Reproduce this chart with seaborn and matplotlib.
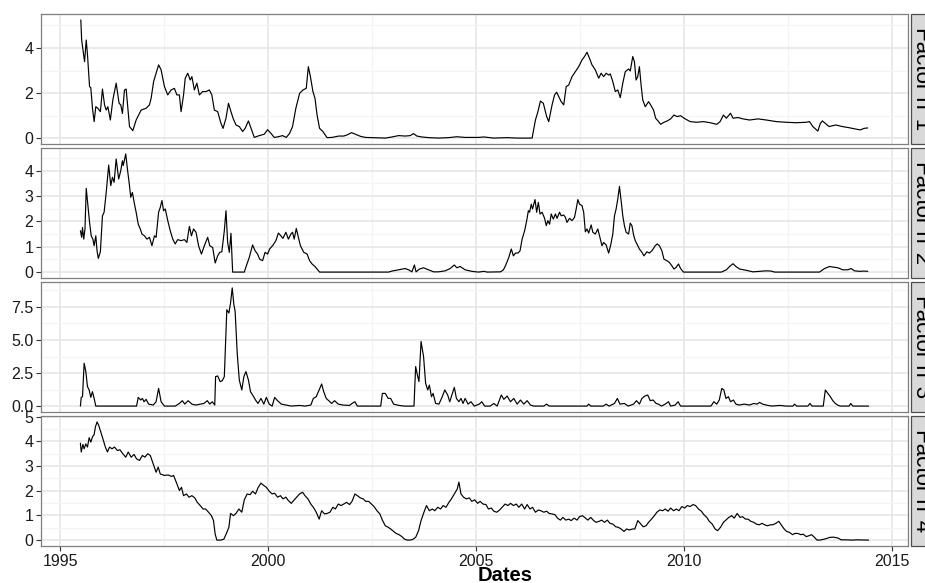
import numpy as np
import pandas as pd
import matplotlib
matplotlib.use("Agg")
import matplotlib.pyplot as plt
import seaborn as sns
from matplotlib.ticker import FixedLocator, MultipleLocator
from matplotlib.patches import Rectangle

sns.set_theme(style="white")
plt.rcParams['font.family'] = ['Liberation Sans', 'DejaVu Sans']

# ---------------- data (decimal years) ----------------
factor_names = ["Factor n°1", "Factor n°2", "Factor n°3", "Factor n°4"]

dates1 = [1995.49, 1995.51, 1995.58, 1995.62, 1995.65, 1995.70, 1995.73, 1995.77, 1995.81, 1995.85,
          1995.90, 1995.96, 1996.01, 1996.06, 1996.10, 1996.14, 1996.20, 1996.26, 1996.34, 1996.41,
          1996.45, 1996.49, 1996.54, 1996.58, 1996.66, 1996.74, 1996.82, 1996.94, 1997.06, 1997.14,
          1997.18, 1997.24, 1997.30, 1997.36, 1997.42, 1997.50, 1997.58, 1997.66, 1997.74, 1997.80,
          1997.86, 1997.90, 1997.96, 1998.00, 1998.06, 1998.12, 1998.16, 1998.22, 1998.28, 1998.34,
          1998.42, 1998.50, 1998.58, 1998.64, 1998.70, 1998.78, 1998.86, 1998.91, 1998.98, 1999.04,
          1999.10, 1999.15, 1999.22, 1999.30, 1999.38, 1999.44, 1999.52, 1999.59, 1999.66, 1999.78,
          1999.90, 1999.98, 2000.06, 2000.14, 2000.24, 2000.34, 2000.43, 2000.51, 2000.58, 2000.66,
          2000.75, 2000.83, 2000.91, 2000.96, 2001.01, 2001.07, 2001.12, 2001.17, 2001.23, 2001.31,
          2001.41, 2001.53, 2001.69, 2001.81, 2001.89, 2002.00, 2002.09, 2002.21, 2002.33, 2002.49,
          2002.81, 2002.97, 2003.13, 2003.29, 2003.41, 2003.49, 2003.57, 2003.69, 2003.85, 2004.09,
          2004.33, 2004.53, 2004.73, 2005.05, 2005.18, 2005.42, 2005.74, 2005.98, 2006.34, 2006.42,
          2006.48, 2006.54, 2006.61, 2006.69, 2006.74, 2006.82, 2006.88, 2006.93, 2006.98, 2007.04,
          2007.10, 2007.16, 2007.22, 2007.30, 2007.38, 2007.46, 2007.54, 2007.60, 2007.66, 2007.72,
          2007.78, 2007.86, 2007.94, 2008.00, 2008.06, 2008.12, 2008.18, 2008.22, 2008.28, 2008.34,
          2008.40, 2008.46, 2008.52, 2008.58, 2008.66, 2008.70, 2008.76, 2008.80, 2008.84, 2008.88,
          2008.92, 2008.96, 2009.00, 2009.06, 2009.14, 2009.19, 2009.26, 2009.31, 2009.38, 2009.43,
          2009.51, 2009.59, 2009.67, 2009.75, 2009.83, 2009.91, 2010.02, 2010.14, 2010.30, 2010.46,
          2010.62, 2010.78, 2010.86, 2010.94, 2011.01, 2011.11, 2011.17, 2011.29, 2011.41, 2011.57,
          2011.77, 2011.97, 2012.21, 2012.45, 2012.69, 2012.93, 2013.01, 2013.09, 2013.21, 2013.27,
          2013.32, 2013.39, 2013.48, 2013.64, 2013.80, 2013.96, 2014.12, 2014.23, 2014.32, 2014.41]
values1 = [5.24, 4.35, 3.39, 4.35, 3.70, 2.29, 2.24, 1.33, 0.74, 1.40,
           1.33, 1.18, 2.18, 1.48, 1.25, 1.40, 0.81, 1.70, 2.44, 1.55,
           1.48, 1.10, 2.14, 2.18, 0.52, 0.34, 0.81, 1.25, 1.33, 1.48,
           1.77, 2.51, 2.88, 3.25, 3.03, 2.29, 1.92, 2.14, 2.21, 1.92,
           1.92, 1.18, 1.92, 2.66, 2.88, 2.58, 2.73, 2.14, 2.44, 1.92,
           2.07, 2.07, 2.14, 1.92, 1.25, 1.18, 0.66, 0.44, 0.89, 1.55,
           1.18, 0.89, 0.59, 0.52, 0.30, 0.44, 0.77, 0.41, 0.04, 0.12,
           0.18, 0.38, 0.22, 0.04, 0.07, 0.12, 0.04, 0.22, 0.52, 1.33,
           1.99, 2.14, 2.21, 3.17, 2.73, 2.07, 1.77, 1.03, 0.44, 0.30,
           0.03, 0.04, 0.10, 0.10, 0.15, 0.25, 0.18, 0.09, 0.04, 0.03,
           0.01, 0.06, 0.12, 0.10, 0.12, 0.21, 0.10, 0.06, 0.03, 0.01,
           0.03, 0.07, 0.04, 0.04, 0.06, 0.01, 0.03, 0.01, 0.01, 0.81,
           1.18, 1.65, 1.55, 0.96, 0.74, 1.48, 1.92, 2.04, 1.85, 1.62,
           1.48, 2.29, 2.36, 2.73, 2.95, 3.17, 3.47, 3.62, 3.81, 3.54,
           3.25, 3.03, 2.66, 2.88, 2.73, 2.88, 2.80, 2.85, 2.51, 2.07,
           2.14, 1.80, 2.44, 2.95, 3.07, 2.98, 3.62, 3.39, 2.58, 2.73,
           3.17, 2.36, 1.70, 1.40, 1.62, 1.48, 1.25, 0.89, 0.74, 0.62,
           0.71, 0.77, 0.86, 1.03, 0.96, 1.00, 0.86, 0.74, 0.71, 0.74,
           0.69, 0.62, 0.74, 1.03, 0.89, 1.11, 0.89, 0.92, 0.86, 0.81,
           0.86, 0.81, 0.74, 0.71, 0.69, 0.71, 0.74, 0.52, 0.32, 0.66,
           0.77, 0.66, 0.52, 0.59, 0.52, 0.47, 0.41, 0.37, 0.44, 0.46]

dates2 = [1995.48, 1995.51, 1995.53, 1995.56, 1995.59, 1995.62, 1995.66, 1995.70, 1995.74, 1995.78,
          1995.81, 1995.85, 1995.88, 1995.91, 1995.96, 1996.01, 1996.05, 1996.10, 1996.16, 1996.21,
          1996.25, 1996.29, 1996.34, 1996.40, 1996.45, 1996.49, 1996.51, 1996.57, 1996.61, 1996.66,
          1996.69, 1996.73, 1996.78, 1996.82, 1996.87, 1996.92, 1996.96, 1997.02, 1997.08, 1997.14,
          1997.20, 1997.26, 1997.30, 1997.36, 1997.40, 1997.44, 1997.48, 1997.52, 1997.58, 1997.64,
          1997.70, 1997.76, 1997.82, 1997.90, 1997.98, 1998.04, 1998.10, 1998.15, 1998.20, 1998.26,
          1998.32, 1998.39, 1998.46, 1998.54, 1998.59, 1998.66, 1998.72, 1998.78, 1998.83, 1998.88,
          1998.94, 1998.98, 1999.02, 1999.06, 1999.10, 1999.14, 1999.42, 1999.47, 1999.54, 1999.62,
          1999.68, 1999.74, 1999.79, 1999.86, 1999.92, 1999.98, 2000.03, 2000.10, 2000.18, 2000.24,
          2000.30, 2000.35, 2000.42, 2000.48, 2000.54, 2000.58, 2000.62, 2000.67, 2000.72, 2000.77,
          2000.85, 2000.93, 2000.99, 2001.05, 2001.12, 2001.17, 2001.23, 2002.89, 2002.97, 2003.13,
          2003.29, 2003.37, 2003.45, 2003.51, 2003.55, 2003.63, 2003.73, 2003.85, 2003.97, 2004.09,
          2004.25, 2004.37, 2004.47, 2004.53, 2004.61, 2004.73, 2004.89, 2005.05, 2005.18, 2005.26,
          2005.58, 2005.65, 2005.70, 2005.78, 2005.84, 2005.89, 2005.94, 2006.00, 2006.05, 2006.10,
          2006.16, 2006.21, 2006.25, 2006.28, 2006.32, 2006.35, 2006.41, 2006.45, 2006.49, 2006.53,
          2006.58, 2006.64, 2006.68, 2006.72, 2006.76, 2006.80, 2006.85, 2006.90, 2006.94, 2007.00,
          2007.04, 2007.10, 2007.14, 2007.18, 2007.24, 2007.30, 2007.36, 2007.40, 2007.44, 2007.48,
          2007.54, 2007.58, 2007.62, 2007.66, 2007.70, 2007.76, 2007.80, 2007.86, 2007.92, 2007.96,
          2008.02, 2008.06, 2008.12, 2008.18, 2008.23, 2008.28, 2008.32, 2008.36, 2008.40, 2008.44,
          2008.48, 2008.52, 2008.56, 2008.60, 2008.66, 2008.70, 2008.74, 2008.78, 2008.82, 2008.87,
          2008.92, 2008.98, 2009.03, 2009.10, 2009.16, 2009.22, 2009.30, 2009.35, 2009.40, 2009.46,
          2009.51, 2009.58, 2009.64, 2009.70, 2009.75, 2009.80, 2009.86, 2009.91, 2009.98, 2010.89,
          2011.01, 2011.09, 2011.17, 2011.24, 2011.33, 2011.49, 2011.65, 2011.81, 2011.97, 2012.09,
          2012.17, 2013.25, 2013.37, 2013.49, 2013.57, 2013.69, 2013.81, 2013.93, 2014.01, 2014.09,
          2014.21, 2014.33, 2014.41]
values2 = [1.63, 1.37, 1.76, 1.30, 1.70, 3.30, 2.62, 1.96, 1.43, 1.30,
           1.04, 1.43, 0.84, 0.54, 0.80, 2.22, 2.36, 3.14, 4.22, 3.41,
           3.74, 3.54, 4.46, 3.67, 4.00, 4.39, 4.20, 4.66, 4.07, 3.41,
           2.95, 3.14, 2.68, 2.36, 1.89, 1.70, 1.50, 1.43, 1.30, 1.37,
           1.04, 1.43, 1.37, 2.36, 2.55, 2.82, 2.42, 2.49, 2.03, 1.63,
           1.30, 1.11, 1.28, 1.24, 1.28, 1.17, 1.80, 1.43, 1.70, 1.57,
           1.04, 0.71, 1.04, 1.37, 1.04, 0.97, 0.36, 0.64, 0.78, 0.80,
           1.63, 2.42, 1.17, 0.78, 1.53, 0.00, 0.00, 0.25, 0.58, 1.07,
           0.84, 0.71, 0.51, 0.45, 0.78, 0.71, 0.91, 1.04, 1.24, 1.54,
           1.43, 1.33, 1.57, 1.30, 1.50, 1.57, 1.30, 1.72, 1.37, 1.04,
           0.78, 0.71, 0.45, 0.32, 0.22, 0.12, 0.00, 0.00, 0.04, 0.09,
           0.14, 0.09, 0.01, 0.28, 0.01, 0.12, 0.17, 0.09, 0.01, 0.01,
           0.05, 0.14, 0.28, 0.17, 0.22, 0.09, 0.03, 0.00, 0.03, 0.00,
           0.01, 0.09, 0.25, 0.58, 0.91, 0.64, 0.75, 0.75, 0.84, 1.30,
           1.63, 2.03, 2.42, 2.36, 2.68, 2.49, 2.86, 2.36, 2.75, 2.29,
           2.36, 2.12, 1.83, 2.03, 1.89, 2.29, 2.09, 2.29, 2.12, 2.36,
           2.22, 2.25, 2.16, 1.96, 2.12, 2.03, 2.16, 2.49, 2.86, 2.68,
           2.62, 2.36, 1.59, 1.70, 1.54, 1.86, 1.57, 1.50, 1.70, 1.43,
           1.04, 1.17, 1.07, 0.75, 1.07, 1.50, 2.22, 2.49, 2.88, 3.38,
           2.82, 2.22, 1.83, 1.57, 1.50, 1.93, 1.83, 1.46, 1.24, 1.07,
           0.91, 0.78, 0.64, 0.80, 0.75, 0.84, 1.04, 1.11, 1.04, 0.84,
           0.51, 0.45, 0.38, 0.25, 0.12, 0.18, 0.32, 0.14, 0.00, 0.00,
           0.09, 0.22, 0.33, 0.22, 0.12, 0.07, 0.01, 0.03, 0.05, 0.04,
           0.00, 0.00, 0.14, 0.22, 0.20, 0.17, 0.09, 0.09, 0.14, 0.05,
           0.03, 0.04, 0.03]

dates3 = [1995.48, 1995.50, 1995.53, 1995.57, 1995.61, 1995.65, 1995.69, 1995.73, 1995.77, 1995.81,
          1995.85, 1996.83, 1996.87, 1996.93, 1996.97, 1997.01, 1997.06, 1997.12, 1997.23, 1997.30,
          1997.36, 1997.42, 1997.50, 1997.76, 1997.86, 1997.93, 1997.99, 1998.07, 1998.16, 1998.25,
          1998.36, 1998.45, 1998.53, 1998.59, 1998.65, 1998.71, 1998.73, 1998.78, 1998.84, 1998.89,
          1998.94, 1999.00, 1999.05, 1999.09, 1999.13, 1999.17, 1999.20, 1999.25, 1999.30, 1999.36,
          1999.41, 1999.46, 1999.52, 1999.57, 1999.62, 1999.69, 1999.75, 1999.82, 1999.89, 1999.95,
          2000.02, 2000.09, 2000.15, 2000.22, 2000.31, 2000.42, 2000.55, 2000.75, 2000.88, 2001.02,
          2001.08, 2001.15, 2001.22, 2001.28, 2001.33, 2001.39, 2001.45, 2001.52, 2001.59, 2001.68,
          2001.79, 2001.95, 2002.01, 2002.08, 2002.14, 2002.70, 2002.74, 2002.81, 2002.88, 2002.94,
          2003.01, 2003.14, 2003.27, 2003.50, 2003.54, 2003.59, 2003.62, 2003.67, 2003.73, 2003.78,
          2003.83, 2003.87, 2003.92, 2003.96, 2004.02, 2004.10, 2004.18, 2004.24, 2004.31, 2004.36,
          2004.42, 2004.47, 2004.52, 2004.58, 2004.63, 2004.68, 2004.73, 2004.80, 2004.87, 2004.95,
          2005.07, 2005.13, 2005.20, 2005.33, 2005.42, 2005.50, 2005.60, 2005.66, 2005.74, 2005.82,
          2005.90, 2005.98, 2006.06, 2006.14, 2006.22, 2006.30, 2006.38, 2006.62, 2006.69, 2006.75,
          2007.66, 2007.70, 2007.75, 2008.05, 2008.12, 2008.19, 2008.32, 2008.39, 2008.45, 2008.56,
          2008.65, 2008.78, 2008.85, 2008.92, 2008.98, 2009.05, 2009.12, 2009.18, 2009.25, 2009.32,
          2009.38, 2009.45, 2009.54, 2009.62, 2009.67, 2009.78, 2009.85, 2009.91, 2010.64, 2010.71,
          2010.78, 2010.84, 2010.90, 2010.95, 2011.00, 2011.06, 2011.11, 2011.18, 2011.24, 2011.32,
          2011.44, 2011.57, 2011.67, 2011.75, 2011.81, 2011.88, 2011.97, 2012.10, 2012.30, 2012.44,
          2012.61, 2012.65, 2012.70, 2012.97, 2013.02, 2013.07, 2013.34, 2013.39, 2013.45, 2013.50,
          2013.57, 2013.63, 2013.70, 2013.76, 2013.96, 2014.00, 2014.05, 2014.43]
values3 = [0.00, 0.66, 0.71, 3.24, 2.61, 1.47, 1.22, 0.66, 1.09, 0.58,
           0.00, 0.00, 0.66, 0.46, 0.58, 0.33, 0.51, 0.15, 0.08, 0.33,
           1.34, 0.33, 0.00, 0.00, 0.20, 0.41, 0.15, 0.41, 0.15, 0.08,
           0.15, 0.20, 0.41, 0.15, 0.33, 0.08, 2.23, 2.28, 1.85, 1.92,
           2.23, 7.29, 7.04, 7.80, 8.94, 7.67, 7.16, 4.00, 1.97, 1.22,
           2.23, 2.61, 1.97, 1.09, 0.84, 0.46, 0.20, 0.58, 0.15, 0.66,
           0.15, 0.00, 0.66, 0.41, 0.15, 0.08, 0.00, 0.05, 0.00, 0.08,
           0.58, 0.71, 1.22, 1.67, 1.09, 0.58, 0.41, 0.20, 0.41, 0.15,
           0.08, 0.05, 0.20, 0.33, 0.00, 0.00, 0.96, 0.96, 0.58, 0.58,
           0.15, 0.05, 0.00, 0.00, 2.99, 2.23, 1.85, 4.89, 3.75, 1.72,
           1.22, 1.59, 0.71, 0.96, 0.20, 0.15, 0.71, 1.22, 0.84, 0.33,
           0.91, 1.42, 0.58, 0.33, 0.58, 0.20, 0.58, 0.15, 0.33, 0.00,
           0.15, 0.33, 0.00, 0.00, 0.20, 0.00, 0.84, 0.51, 0.76, 0.33,
           0.58, 0.15, 0.46, 0.15, 0.41, 0.08, 0.00, 0.00, 0.15, 0.00,
           0.00, 0.15, 0.00, 0.00, 0.15, 0.00, 0.20, 0.58, 0.15, 0.20,
           0.00, 0.15, 0.41, 0.15, 0.58, 0.76, 0.84, 0.41, 0.46, 0.20,
           0.15, 0.00, 0.15, 0.33, 0.00, 0.08, 0.33, 0.00, 0.00, 0.33,
           0.15, 0.46, 1.34, 1.22, 0.58, 0.71, 0.33, 0.46, 0.15, 0.08,
           0.15, 0.08, 0.20, 0.15, 0.28, 0.15, 0.08, 0.00, 0.05, 0.00,
           0.00, 0.15, 0.00, 0.00, 0.20, 0.00, 0.00, 1.22, 0.96, 0.76,
           0.41, 0.20, 0.05, 0.00, 0.00, 0.20, 0.00, 0.00]

dates4 = [1995.48, 1995.50, 1995.54, 1995.57, 1995.61, 1995.65, 1995.69, 1995.73, 1995.77, 1995.81,
          1995.84, 1995.88, 1995.92, 1995.97, 1996.02, 1996.08, 1996.13, 1996.18, 1996.24, 1996.30,
          1996.37, 1996.43, 1996.50, 1996.57, 1996.63, 1996.70, 1996.77, 1996.83, 1996.90, 1996.97,
          1997.03, 1997.10, 1997.16, 1997.23, 1997.30, 1997.35, 1997.40, 1997.50, 1997.59, 1997.67,
          1997.72, 1997.80, 1997.86, 1997.91, 1997.96, 1998.03, 1998.09, 1998.16, 1998.23, 1998.29,
          1998.36, 1998.43, 1998.49, 1998.56, 1998.63, 1998.68, 1998.72, 1998.76, 1998.86, 1998.93,
          1999.00, 1999.05, 1999.09, 1999.16, 1999.22, 1999.29, 1999.36, 1999.42, 1999.49, 1999.56,
          1999.62, 1999.69, 1999.75, 1999.82, 1999.89, 1999.95, 2000.02, 2000.09, 2000.15, 2000.22,
          2000.29, 2000.35, 2000.42, 2000.48, 2000.55, 2000.62, 2000.68, 2000.75, 2000.82, 2000.88,
          2000.95, 2001.02, 2001.08, 2001.15, 2001.22, 2001.28, 2001.35, 2001.41, 2001.48, 2001.55,
          2001.61, 2001.68, 2001.75, 2001.81, 2001.88, 2001.95, 2002.01, 2002.08, 2002.14, 2002.21,
          2002.28, 2002.34, 2002.41, 2002.48, 2002.54, 2002.61, 2002.68, 2002.74, 2002.81, 2002.88,
          2002.94, 2003.01, 2003.07, 2003.14, 2003.21, 2003.27, 2003.34, 2003.41, 2003.47, 2003.54,
          2003.61, 2003.67, 2003.74, 2003.80, 2003.87, 2003.94, 2004.00, 2004.07, 2004.14, 2004.20,
          2004.27, 2004.34, 2004.40, 2004.47, 2004.54, 2004.58, 2004.63, 2004.69, 2004.76, 2004.83,
          2004.89, 2004.96, 2005.03, 2005.09, 2005.16, 2005.23, 2005.29, 2005.36, 2005.42, 2005.49,
          2005.56, 2005.62, 2005.69, 2005.76, 2005.82, 2005.89, 2005.96, 2006.02, 2006.09, 2006.16,
          2006.22, 2006.29, 2006.35, 2006.42, 2006.49, 2006.55, 2006.62, 2006.69, 2006.75, 2006.82,
          2006.89, 2006.95, 2007.02, 2007.08, 2007.15, 2007.22, 2007.28, 2007.35, 2007.42, 2007.48,
          2007.55, 2007.62, 2007.68, 2007.75, 2007.82, 2007.88, 2007.95, 2008.01, 2008.08, 2008.15,
          2008.21, 2008.28, 2008.35, 2008.41, 2008.48, 2008.55, 2008.61, 2008.68, 2008.75, 2008.81,
          2008.88, 2008.94, 2009.01, 2009.08, 2009.14, 2009.21, 2009.28, 2009.34, 2009.41, 2009.48,
          2009.54, 2009.61, 2009.67, 2009.74, 2009.81, 2009.87, 2009.94, 2010.01, 2010.07, 2010.14,
          2010.21, 2010.27, 2010.34, 2010.41, 2010.47, 2010.54, 2010.60, 2010.67, 2010.74, 2010.80,
          2010.87, 2010.94, 2011.00, 2011.07, 2011.14, 2011.20, 2011.27, 2011.34, 2011.40, 2011.47,
          2011.53, 2011.60, 2011.67, 2011.73, 2011.80, 2011.87, 2011.93, 2012.00, 2012.07, 2012.13,
          2012.20, 2012.27, 2012.33, 2012.40, 2012.46, 2012.53, 2012.60, 2012.66, 2012.73, 2012.80,
          2012.86, 2012.93, 2013.00, 2013.06, 2013.13, 2013.19, 2013.26, 2013.37, 2013.50, 2013.59,
          2013.70, 2013.77, 2013.90, 2014.02, 2014.15, 2014.43]
values4 = [3.93, 3.57, 3.88, 3.70, 3.90, 3.77, 4.15, 3.97, 4.18, 4.28,
           4.58, 4.79, 4.65, 4.38, 4.11, 3.77, 3.57, 3.77, 3.70, 3.77,
           3.63, 3.66, 3.50, 3.36, 3.57, 3.36, 3.47, 3.29, 3.23, 3.43,
           3.36, 3.50, 3.43, 3.09, 2.75, 2.96, 2.68, 2.62, 2.64, 2.58,
           2.62, 2.28, 2.01, 2.14, 1.80, 1.87, 1.74, 1.80, 1.71, 1.53,
           1.40, 1.26, 1.26, 1.13, 0.99, 0.79, 0.24, 0.00, 0.00, 0.04,
           0.31, 0.52, 1.08, 0.99, 1.08, 1.26, 1.13, 1.63, 1.87, 1.84,
           1.98, 1.87, 2.12, 2.31, 2.21, 2.14, 1.98, 1.87, 1.90, 1.74,
           1.80, 1.67, 1.74, 1.60, 1.49, 1.63, 1.74, 1.87, 1.94, 1.80,
           1.67, 1.46, 1.33, 1.13, 0.85, 1.19, 1.06, 1.08, 1.13, 1.33,
           1.26, 1.46, 1.40, 1.46, 1.53, 1.44, 1.57, 1.87, 1.80, 1.71,
           1.67, 1.57, 1.57, 1.46, 1.36, 1.19, 1.06, 0.81, 0.58, 0.52,
           0.45, 0.35, 0.27, 0.22, 0.14, 0.04, 0.00, 0.00, 0.03, 0.11,
           0.38, 0.79, 1.13, 1.40, 1.19, 1.26, 1.19, 1.33, 1.26, 1.40,
           1.33, 1.53, 1.67, 1.87, 2.07, 2.35, 1.87, 1.74, 1.67, 1.71,
           1.57, 1.63, 1.49, 1.57, 1.46, 1.44, 1.26, 1.30, 1.17, 1.13,
           1.22, 1.33, 1.46, 1.40, 1.49, 1.40, 1.46, 1.33, 1.46, 1.26,
           1.44, 1.26, 1.33, 1.13, 1.22, 1.19, 1.13, 1.17, 1.08, 1.06,
           1.03, 0.89, 0.81, 0.92, 0.81, 0.85, 0.79, 0.89, 0.81, 0.95,
           0.99, 0.89, 0.81, 0.92, 0.79, 0.72, 0.76, 0.81, 0.72, 0.81,
           0.68, 0.65, 0.54, 0.52, 0.45, 0.35, 0.45, 0.41, 0.45, 0.45,
           0.79, 0.68, 0.54, 0.58, 0.72, 0.85, 0.99, 1.13, 1.22, 1.19,
           1.26, 1.17, 1.30, 1.19, 1.26, 1.19, 1.36, 1.30, 1.40, 1.36,
           1.44, 1.40, 1.26, 1.17, 1.03, 0.92, 0.76, 0.65, 0.45, 0.38,
           0.52, 0.72, 0.81, 0.92, 0.99, 0.89, 1.08, 0.92, 0.95, 0.85,
           0.85, 0.76, 0.72, 0.65, 0.62, 0.68, 0.62, 0.58, 0.62, 0.62,
           0.68, 0.76, 0.62, 0.45, 0.35, 0.31, 0.22, 0.27, 0.27, 0.22,
           0.24, 0.14, 0.18, 0.22, 0.11, 0.00, 0.00, 0.04, 0.11, 0.12,
           0.08, 0.01, 0.01, 0.00, 0.01, 0.00]

x_ticks = [1995, 2000, 2005, 2010, 2015]
x_tick_labels = ["1995", "2000", "2005", "2010", "2015"]
y_ticks = [[0, 2, 4], [0, 1, 2, 3, 4], [0, 2.5, 5.0, 7.5], [0, 1, 2, 3, 4, 5]]
y_tick_labels = [["0", "2", "4"], ["0", "1", "2", "3", "4"],
                 ["0.0", "2.5", "5.0", "7.5"], ["0", "1", "2", "3", "4", "5"]]
x_label = "Dates"

# ---------------- build long table ----------------
frames = []
for name, d, v in zip(factor_names, [dates1, dates2, dates3, dates4],
                      [values1, values2, values3, values4]):
    frames.append(pd.DataFrame({"Dates": d, "value": v, "factor": name}))
df = pd.concat(frames, ignore_index=True)

# ---------------- figure ----------------
W, H = 925, 583
fig, axes = plt.subplots(4, 1, figsize=(W / 100, H / 100), dpi=100, sharex=True)
fig.subplots_adjust(left=41 / W, right=908 / W, top=1 - 14 / H, bottom=1 - 546 / H,
                    hspace=4 / 130)

xmin, xmax = df["Dates"].min(), df["Dates"].max()
xr = xmax - xmin

tick_col = "#333333"
for i, (ax, name) in enumerate(zip(axes, factor_names)):
    sub = df[df["factor"] == name]
    sns.lineplot(data=sub, x="Dates", y="value", ax=ax, color="black",
                 linewidth=0.85, estimator=None, sort=True)
    lo, hi = sub["value"].min(), sub["value"].max()
    r = hi - lo
    ax.set_ylim(lo - 0.05 * r, hi + 0.05 * r)
    ax.set_xlim(xmin - 0.05 * xr, xmax + 0.05 * xr)

    ax.yaxis.set_major_locator(FixedLocator(y_ticks[i]))
    ax.set_yticklabels(y_tick_labels[i])
    step = y_ticks[i][1] - y_ticks[i][0]
    ax.yaxis.set_minor_locator(MultipleLocator(step / 2))
    ax.xaxis.set_major_locator(FixedLocator(x_ticks))
    ax.xaxis.set_minor_locator(MultipleLocator(2.5))

    ax.set_axisbelow(True)
    ax.grid(which="major", color="#E6E6E6", linewidth=1.2)
    ax.grid(which="minor", color="#F4F4F4", linewidth=0.9)
    for sp in ax.spines.values():
        sp.set_visible(True)
        sp.set_color("#7F7F7F")
        sp.set_linewidth(0.9)

    ax.tick_params(axis="y", which="major", left=True, length=3.5, width=0.8,
                   color=tick_col, labelsize=11.5, labelcolor="#1A1A1A", pad=2)
    ax.tick_params(which="minor", length=0)
    ax.set_xlabel("")
    ax.set_ylabel("")

    # strip on the right
    pos = ax.get_position()
    fig.add_artist(Rectangle((911 / W, pos.y0), 32 / W, pos.height,
                             transform=fig.transFigure, facecolor="#D9D9D9",
                             edgecolor="#4D4D4D", linewidth=0.9, clip_on=False))
    fig.text(921 / W, pos.y0 + pos.height / 2, name, rotation=-90,
             ha="center", va="center", fontsize=16, color="black")

for ax in axes[:-1]:
    ax.tick_params(axis="x", which="both", bottom=False, labelbottom=False)

axes[-1].tick_params(axis="x", which="major", bottom=True, length=3.5, width=0.8,
                     color=tick_col, labelsize=11.5, labelcolor="#1A1A1A", pad=2)
axes[-1].set_xticklabels(x_tick_labels)

fig.text(505 / W, 1 - 581 / H, x_label, ha="center", va="baseline",
         fontsize=14.5, fontweight="bold", color="black")

fig.savefig("out.png", dpi=100)
